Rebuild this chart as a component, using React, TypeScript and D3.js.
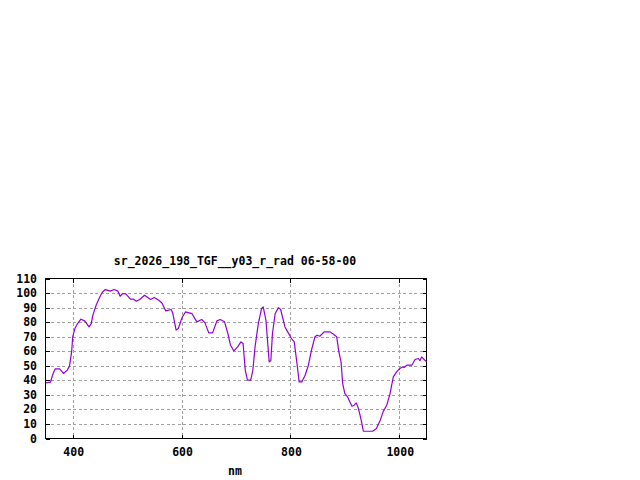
import * as d3 from "d3";

const wavelengths = [
	351, 359, 364, 368, 376, 383, 390, 394, 398, 400, 404, 408, 415, 422, 430, 434, 437, 443, 450,
	454, 460, 469, 476, 483, 487, 492, 498, 506, 512, 517, 523, 532, 543, 550, 558, 564, 571, 581,
	584, 590, 594, 601, 607, 619, 628, 637, 643, 650, 657, 665, 671, 679, 685, 690, 696, 703, 709,
	713, 717, 721, 727, 731, 735, 741, 747, 750, 755, 761, 764, 767, 772, 778, 782, 790, 796, 802,
	807, 812, 816, 821, 827, 833, 839, 845, 849, 854, 862, 873, 879, 885, 889, 893, 896, 900, 905,
	913, 917, 921, 925, 930, 934, 951, 958, 965, 971, 977, 983, 989, 995, 1001, 1006, 1009, 1014,
	1023, 1029, 1035, 1038, 1041, 1047, 1050,
];

const radiance = [
	38.2, 38.7, 44.7, 47.9, 47.9, 44.7, 47, 49.7, 59.5, 69.9, 75.6, 78.4, 82, 80.9, 76.7, 79, 84.8,
	91.6, 97.4, 100.4, 102.4, 101.3, 102.4, 101.3, 97.8, 99.7, 99.2, 95.8, 95.8, 94.4, 95.6, 98.5,
	95.6, 96.9, 95.1, 93.2, 87.7, 88.7, 85.9, 74.5, 75.6, 83.2, 87, 85.9, 80.2, 81.8, 79.5, 72.6,
	72.6, 80.9, 81.8, 80.2, 72.2, 64.1, 60.2, 63, 66.4, 65.3, 47, 40.1, 40.1, 47, 63, 79, 89.4, 90.5,
	81.3, 52.7, 53.5, 72.2, 85.9, 90, 88.7, 76.7, 72.6, 68.7, 66.4, 51.6, 38.9, 38.9, 43.5, 50.4,
	61.2, 69.9, 71, 70.3, 73.3, 73.3, 71.7, 69.9, 59.5, 52.7, 37.8, 30.9, 28.6, 22.2, 22.9, 24.5,
	20.6, 12.6, 5, 5, 6.9, 12.6, 19, 22.9, 30.9, 42.4, 45.8, 48.1, 49.2, 48.8, 50.4, 50.4, 54.3, 55,
	53.5, 56.1, 53.8, 53,
];

const xTicks = [400, 600, 800, 1000];
const yTicks = [0, 10, 20, 30, 40, 50, 60, 70, 80, 90, 100, 110];

const title = "sr_2026_198_TGF__y03_r_rad 06-58-00";
const xLabel = "nm";

const font = "'DejaVu Sans Mono', 'Liberation Mono', monospace";

export default function App() {
	const left = 45.5;
	const right = 426.5;
	const top = 278.5;
	const bottom = 438.5;

	const x = d3.scaleLinear().domain([350, 1050]).range([left, right]);
	const y = d3.scaleLinear().domain([0, 110]).range([bottom, top]);

	const line = d3
		.line<number>()
		.x((_, i) => x(wavelengths[i]))
		.y((d) => y(d));

	const tickLen = 4;

	return (
		<svg
			width={640}
			height={480}
			style={{ position: "absolute", left: 0, top: 0, background: "#fff" }}
		>
			<rect width={640} height={480} fill="#fff" />
			{/* grid */}
			<g stroke="#a0a0a0" strokeWidth={1} strokeDasharray="3,2.5" shapeRendering="crispEdges">
				{yTicks
					.filter((t) => t > 0 && t < 110)
					.map((t) => (
						<line key={`gy${t}`} x1={left} x2={right} y1={Math.round(y(t)) + 0.5} y2={Math.round(y(t)) + 0.5} />
					))}
				{xTicks.map((t) => (
					<line key={`gx${t}`} x1={Math.round(x(t)) + 0.5} x2={Math.round(x(t)) + 0.5} y1={top} y2={bottom} />
				))}
			</g>
			{/* ticks */}
			<g stroke="#000" strokeWidth={1} shapeRendering="crispEdges">
				{yTicks.map((t) => {
					const yy = Math.round(y(t)) + 0.5;
					return (
						<g key={`ty${t}`}>
							<line x1={left} x2={left + tickLen} y1={yy} y2={yy} />
							<line x1={right - tickLen} x2={right} y1={yy} y2={yy} />
						</g>
					);
				})}
				{xTicks.map((t) => {
					const xx = Math.round(x(t)) + 0.5;
					return (
						<g key={`tx${t}`}>
							<line x1={xx} x2={xx} y1={bottom} y2={bottom - tickLen} />
							<line x1={xx} x2={xx} y1={top} y2={top + tickLen} />
						</g>
					);
				})}
				<rect x={left} y={top} width={right - left} height={bottom - top} fill="none" />
			</g>
			{/* data */}
			<path d={line(radiance) ?? ""} fill="none" stroke="#9400d3" strokeWidth={1.2} strokeLinejoin="round" />
			{/* labels */}
			<g fontFamily={font} fontWeight="bold" fontSize={11.5} fill="#000">
				{yTicks.map((t) => (
					<text key={`ly${t}`} x={37} y={y(t)} dy="0.35em" textAnchor="end">
						{t}
					</text>
				))}
				{xTicks.map((t) => (
					<text key={`lx${t}`} x={x(t) + 1} y={452} dy="0.35em" textAnchor="middle">
						{t}
					</text>
				))}
				<text x={235} y={471} dy="0.35em" textAnchor="middle">
					{xLabel}
				</text>
				<text x={235} y={260.5} dy="0.35em" textAnchor="middle">
					{title}
				</text>
			</g>
		</svg>
	);
}
